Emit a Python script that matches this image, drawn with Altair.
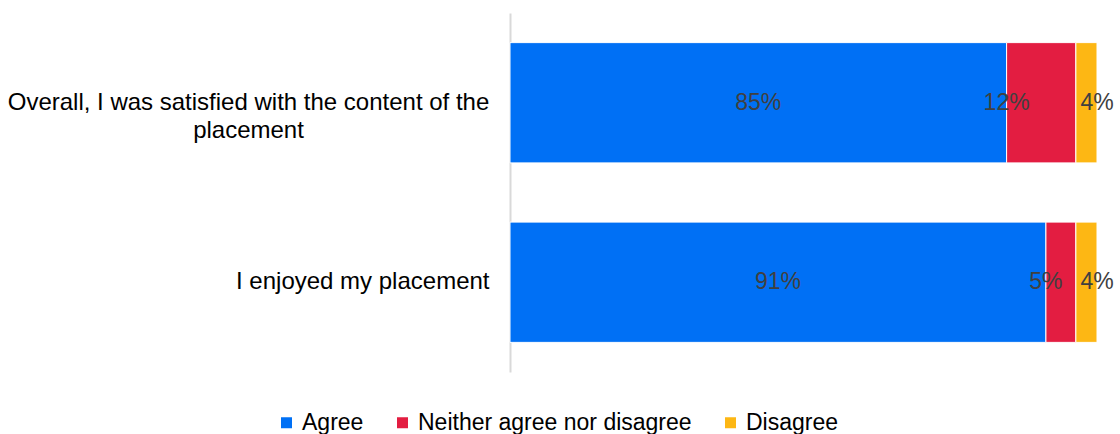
import altair as alt
import pandas as pd

categories = [
    "Overall, I was satisfied with the content of the placement",
    "I enjoyed my placement",
]
responses = ["Agree", "Neither agree nor disagree", "Disagree"]
agree = [84.6, 91.3]
neither = [11.8, 5.1]
disagree = [3.6, 3.6]
colors = ["#0070F5", "#E31D41", "#FDB714"]

rows = []
for i, cat in enumerate(categories):
    start = 0.0
    for resp, vals in zip(responses, [agree, neither, disagree]):
        v = vals[i]
        end = start + v
        if resp == "Agree":
            lp = (start + end) / 2
        elif resp == "Disagree":
            lp = end
        else:
            lp = start
        rows.append(dict(category=cat, response=resp, start=start, end=end,
                         value=v, label=f"{round(v)}%", label_pos=lp,
                         order=responses.index(resp)))
        start = end
df = pd.DataFrame(rows)

FONT = "Liberation Sans"
wrap_test = "length(datum.label) > 30"

y_axis = alt.Axis(
    title=None,
    ticks=False,
    domainColor="#d9d9d9",
    domainWidth=2,
    labelFont=FONT,
    labelFontSize=24,
    labelColor="#000000",
    labelLimit=800,
    labelLineHeight=28,
    labelExpr=("length(datum.label) > 30 ? [slice(datum.label, 0, lastindexof(datum.label, ' ')), "
               "slice(datum.label, lastindexof(datum.label, ' ') + 1)] : datum.label"),
    labelAlign={"condition": {"test": wrap_test, "value": "center"}, "value": "right"},
    labelPadding={"condition": {"test": wrap_test, "value": 262}, "value": 21},
)

y_enc = alt.Y("category:N", sort=categories, axis=y_axis,
              scale=alt.Scale(paddingInner=0.33, paddingOuter=0.165))
x_scale = alt.Scale(domain=[0, 100], nice=False, zero=True)

bars = alt.Chart(df).mark_bar(stroke="white", strokeWidth=1).encode(
    x=alt.X("start:Q", scale=x_scale, axis=None),
    x2="end:Q",
    y=y_enc,
    color=alt.Color(
        "response:N",
        sort=responses,
        scale=alt.Scale(domain=responses, range=colors),
        legend=alt.Legend(
            title=None,
            orient="none",
            legendX=-235,
            legendY=398,
            direction="horizontal",
            symbolType="square",
            symbolSize=121,
            symbolStrokeWidth=0,
            labelFont=FONT,
            labelFontSize=23,
            labelColor="#000000",
            labelOffset=4,
            columnPadding=27,
            labelLimit=500,
            padding=0,
        ),
    ),
    order=alt.Order("order:Q"),
)

texts = alt.Chart(df).mark_text(
    font=FONT, fontSize=23, color="#404040", align="center", baseline="middle"
).encode(
    x=alt.X("label_pos:Q", scale=x_scale, axis=None),
    y=alt.Y("category:N", sort=categories),
    text="label:N",
)

chart = (
    alt.layer(bars, texts)
    .properties(
        width=587,
        height=359,
        autosize=alt.AutoSizeParams(type="none"),
        padding={"left": 510, "top": 13, "right": 23, "bottom": 62},
        background="white",
    )
    .configure_view(stroke=None)
)

chart.save("out.html", embed_options={"renderer": "svg", "actions": False})
